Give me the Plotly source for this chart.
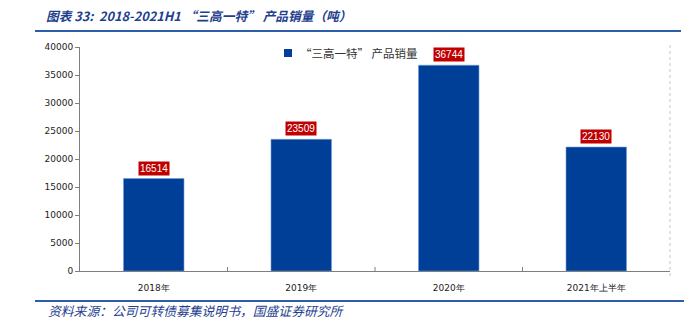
import plotly.graph_objects as go

categories = ["2018年", "2019年", "2020年", "2021年上半年"]
sales_tons = [16514, 23509, 36744, 22130]
series_name = "“三高一特” 产品销量"
y_ticks = [0, 5000, 10000, 15000, 20000, 25000, 30000, 35000, 40000]

title_text = "图表 33:  2018-2021H1 “三高一特” 产品销量（吨）"
source_text = "资料来源：公司可转债募集说明书，国盛证券研究所"

BAR_BLUE = "#003F98"
HEAD_BLUE = "#1F3F8F"
LABEL_RED = "#C00000"

W, H = 693, 325
L, R, T, B = 80, 23, 47, 54


def px_x(p):
    return (p - L) / (W - L - R)


def px_y(p):
    return 1 - (p - T) / (H - T - B)


fig = go.Figure()
fig.add_trace(go.Bar(
    x=categories, y=sales_tons, name=series_name,
    marker=dict(color=BAR_BLUE, line=dict(color="#6F9BD6", width=0.6)),
    width=0.41, showlegend=False,
))

# value labels in red boxes above each bar
for c, v in zip(categories, sales_tons):
    fig.add_annotation(
        x=c, y=v, text=str(v), showarrow=False, yanchor="bottom", yshift=3,
        font=dict(family="Liberation Sans, Arial", size=10, color="white"),
        bgcolor=LABEL_RED, borderpad=1,
    )

# legend key: square swatch plus series name
fig.add_shape(type="rect", xref="paper", yref="paper",
              x0=px_x(284), x1=px_x(292), y0=px_y(57), y1=px_y(49),
              fillcolor=BAR_BLUE, line=dict(width=0))
fig.add_annotation(
    xref="paper", yref="paper", x=px_x(298), y=px_y(53),
    xanchor="left", yanchor="middle", showarrow=False, text=series_name,
    font=dict(family="Noto Sans CJK SC", size=11.5, color="#333333"),
)

# heading and footer
fig.add_annotation(
    xref="paper", yref="paper", x=px_x(44), y=px_y(15),
    xanchor="left", yanchor="middle", showarrow=False,
    text="<b><i>" + title_text + "</i></b>",
    font=dict(family="Noto Sans CJK SC", size=12.7, color=HEAD_BLUE),
)
fig.add_annotation(
    xref="paper", yref="paper", x=px_x(46), y=px_y(310),
    xanchor="left", yanchor="middle", showarrow=False,
    text="<i>" + source_text + "</i>",
    font=dict(family="Noto Sans CJK SC", size=12.8, color=HEAD_BLUE),
)

# rule lines under heading and above footer
fig.add_shape(type="line", xref="paper", yref="paper", x0=px_x(35), x1=px_x(681),
              y0=px_y(31), y1=px_y(31), line=dict(color="#2E5EAA", width=2))
fig.add_shape(type="line", xref="paper", yref="paper", x0=px_x(35), x1=px_x(684),
              y0=px_y(301), y1=px_y(301), line=dict(color="#2E5EAA", width=2))
# faint dotted right border of the plot area
fig.add_shape(type="line", xref="paper", yref="paper", x0=1, x1=1,
              y0=px_y(276), y1=px_y(44), line=dict(color="#C8C8C8", width=1, dash="dot"))

fig.update_layout(
    width=W, height=H,
    margin=dict(l=L, r=R, t=T, b=B),
    paper_bgcolor="white", plot_bgcolor="white",
    bargap=0.59,
    showlegend=False,
    xaxis=dict(
        showline=True, linecolor="#7F7F7F", linewidth=1,
        ticks="", ticklabelstandoff=8,
        tickfont=dict(family="DejaVu Sans, Verdana", size=9, color="#222222"),
        showgrid=False, fixedrange=True,
    ),
    yaxis=dict(
        range=[0, 40000], tickvals=y_ticks, ticktext=[str(t) for t in y_ticks],
        showline=True, linecolor="#7F7F7F", linewidth=1,
        ticks="outside", ticklen=4, tickcolor="#7F7F7F",
        tickfont=dict(family="DejaVu Sans, Verdana", size=9, color="#222222"),
        showgrid=False, zeroline=False, fixedrange=True,
    ),
)

# inward tick marks at category boundaries
for i in range(1, len(categories)):
    fig.add_shape(type="line", xref="paper", yref="paper",
                  x0=i / len(categories), x1=i / len(categories),
                  y0=0, y1=4 / (H - T - B), line=dict(color="#7F7F7F", width=1))

fig.write_html("out.html")
